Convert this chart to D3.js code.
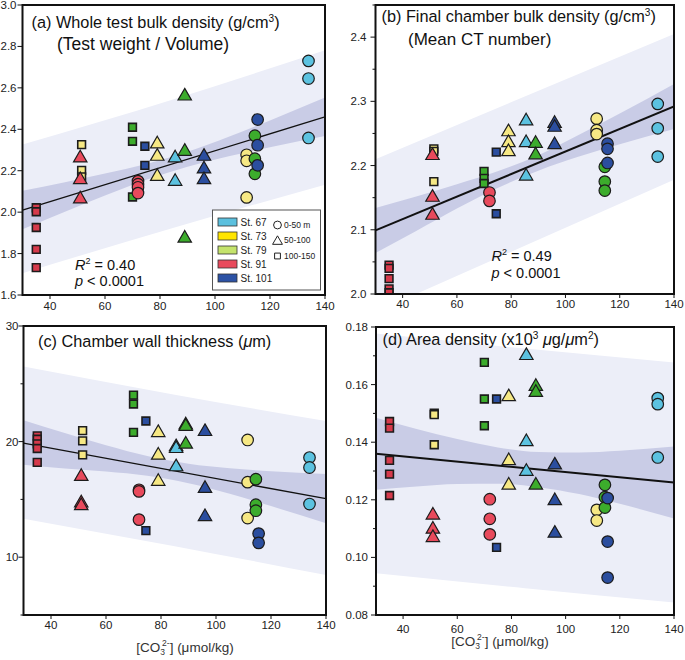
<!DOCTYPE html>
<html><head><meta charset="utf-8">
<script src="https://cdn.jsdelivr.net/npm/d3@7"></script>
<style>body{margin:0;background:#fff} svg{display:block} text{font-family:"Liberation Sans", Arial, Helvetica, sans-serif;}</style>
</head><body><svg id="c" width="685" height="660"></svg>
<script>
// ---------- data ----------
const stations = ["St. 67","St. 73","St. 79","St. 91","St. 101"];
const stationColors = ["#5cc2e0","#f6e884","#3cac2c","#e84a5c","#2b4e9f"];
const legendColors = ["#5bc0de","#ffe500","#c4e36c","#e84a5c","#2c52a5"];
const depthLabels = ["0-50 m","50-100","100-150"];
// groups: station index, depth index, [CO3 2-]
const groupStation = [0,0,1,1,1,2,2,2,3,3,3,4,4,4];
const groupDepth   = [0,1,0,1,2,0,1,2,0,1,2,0,1,2];
const groupCO3     = [134,85.5,111.5,79,51.5,114.5,89,70,72,51,35,115.5,96,74.5];

const wholeDensity = [
  [2.73,2.645,2.358],[2.266,2.153],[2.277,2.248,2.071],[2.334,2.274,2.177],[2.326,2.202,2.17],
  [2.369,2.258,2.185],[2.565,2.298,1.879],[2.41,2.342,2.073],[2.15,2.135,2.12,2.092],
  [2.266,2.161,2.068],[2.021,2.002,1.926,1.82,1.732],[2.447,2.323,2.226],[2.274,2.213,2.161],[2.318,2.226]
];
const chamberDensity = [
  [2.296,2.258,2.214],[2.271,2.237,2.185],[2.273,2.255,2.249],[2.254,2.237,2.223],[2.226,2.222,2.175],
  [2.198,2.175,2.161],[2.236,2.218],[2.191,2.18,2.172],[2.158,2.145],
  [2.217,2.152,2.124],[2.045,2.04,2.024,2.008,2.002],[2.234,2.226,2.204],[2.267,2.261,2.234],[2.221,2.125]
];
const wallThickness = [
  [18.62,17.76,14.6],[19.63,19.48,17.9],[20.14,16.49,13.39],[20.86,18.9,16.64],[20.95,20.06,18.85],
  [16.75,14.54,14.02],[21.52,21.4,19.86],[24.02,23.25,20.8],[15.83,15.69,13.25],
  [17.07,14.77,14.54],[20.5,20.2,19.8,19.4,18.2],[12.04,11.24],[20.95,16.03,13.59],[21.78,12.3]
];
const areaDensity = [
  [0.1553,0.1532,0.1347],[0.1704,0.1405,0.1302],[0.1165,0.1128],[0.1561,0.1339,0.1254],[0.1501,0.1496,0.1391],
  [0.1252,0.1209,0.1173],[0.1597,0.1576,0.1254],[0.1677,0.155,0.1457],[0.1202,0.1134,0.108],
  [0.115,0.1101,0.1072],[0.1472,0.1449,0.1337,0.1289,0.1215],[0.1206,0.1055,0.093],[0.1324,0.12,0.1087],[0.155,0.1035]
];

// regression lines (value at x = 30 and x = 140)
const fitX = [30,140];
const fitA = [2.01,2.46];
const fitB = [2.099,2.292];
const fitC = [19.86,15.06];
const fitD = [0.136,0.126];

// 95% confidence bands
const ciX = [30,45,60,75,90,105,120,140];
const ciLoA = [1.917,1.999,2.080,2.156,2.219,2.270,2.313,2.367];
const ciHiA = [2.103,2.143,2.186,2.232,2.291,2.364,2.443,2.553];
const ciLoB = [2.064,2.098,2.133,2.165,2.192,2.214,2.233,2.257];
const ciHiB = [2.134,2.152,2.171,2.191,2.216,2.248,2.281,2.327];
const ciLoC = [18.0,17.67,17.42,17.05,16.40,15.49,14.42,12.93];
const ciHiC = [21.85,20.74,19.68,18.75,18.08,17.69,17.44,17.19];
const ciLoD = [0.1235,0.1246,0.1255,0.1256,0.1244,0.1220,0.1186,0.1135];
const ciHiD = [0.1485,0.1446,0.1411,0.1382,0.1366,0.1364,0.1370,0.1385];

// 95% prediction bands
const piX = [30,85,140];
const piLoA = [1.705,1.925,2.132];
const piHiA = [2.326,2.545,2.782];
const piLoB = [1.972,2.075,2.178];
const piHiB = [2.21,2.3075,2.405];
const piLoC = [13.33,10.95,8.45];
const piHiC = [26.5,24.05,21.78];
const piLoD = [0.0945,0.0893,0.0843];
const piHiD = [0.1777,0.1725,0.1677];

const xTicks = [40,60,80,100,120,140];
const yTicksA = [1.6,1.8,2.0,2.2,2.4,2.6,2.8,3.0];
const yTicksB = [2.0,2.1,2.2,2.3,2.4];
const yMinorB = [2.05,2.15,2.25,2.35,2.45];
const yTicksC = [10,20,30];
const yMinorC = [5,15,25];
const yTicksD = [0.08,0.10,0.12,0.14,0.16,0.18];
const yMinorD = [0.09,0.11,0.13,0.15,0.17];

// ---------- layout ----------
const svg = d3.select("#c");
const panels = [
  {id:"a", l:22.5, r:325, t:5, b:295, dom:[1.6,3.0], vals:wholeDensity, fit:fitA, ciLo:ciLoA, ciHi:ciHiA, piLo:piLoA, piHi:piHiA,
   ticks:yTicksA, minor:[], fmt:d3.format(".1f"), xlabDy:15, ylabGap:6},
  {id:"b", l:375.5, r:674, t:5, b:294, dom:[2.0,2.45], vals:chamberDensity, fit:fitB, ciLo:ciLoB, ciHi:ciHiB, piLo:piLoB, piHi:piHiB,
   ticks:yTicksB, minor:yMinorB, fmt:d3.format(".1f"), xlabDy:14, ylabGap:9},
  {id:"c", l:23.5, r:326, t:326, b:615, dom:[5,30], vals:wallThickness, fit:fitC, ciLo:ciLoC, ciHi:ciHiC, piLo:piLoC, piHi:piHiC,
   ticks:yTicksC, minor:yMinorC, fmt:d3.format("d"), xlabDy:14, ylabGap:5},
  {id:"d", l:376, r:674, t:327, b:615, dom:[0.08,0.18], vals:areaDensity, fit:fitD, ciLo:ciLoD, ciHi:ciHiD, piLo:piLoD, piHi:piHiD,
   ticks:yTicksD, minor:yMinorD, fmt:d3.format(".2f"), xlabDy:18, ylabGap:8}
];

const symTypes = [d3.symbolCircle, d3.symbolTriangle, d3.symbolSquare];
const symSizes = [105, 78, 60];

panels.forEach(p => {
  const x = d3.scaleLinear().domain([30,140]).range([p.l,p.r]);
  const y = d3.scaleLinear().domain(p.dom).range([p.b,p.t]);
  const g = svg.append("g");
  const clipId = "clip"+p.id;
  svg.append("clipPath").attr("id",clipId).append("rect")
    .attr("x",p.l).attr("y",p.t).attr("width",p.r-p.l).attr("height",p.b-p.t);
  const inner = g.append("g").attr("clip-path",`url(#${clipId})`);
  inner.append("rect").attr("x",p.l).attr("y",p.t).attr("width",p.r-p.l).attr("height",p.b-p.t).attr("fill","#fff");

  const area = d3.area().x(d=>x(d[0])).y0(d=>y(d[1])).y1(d=>y(d[2]));
  const piData = piX.map((v,i)=>[v,p.piLo[i],p.piHi[i]]);
  const ciData = ciX.map((v,i)=>[v,p.ciLo[i],p.ciHi[i]]);
  inner.append("path").attr("d",area.curve(d3.curveMonotoneX)(piData)).attr("fill","#eceef8");
  inner.append("path").attr("d",area.curve(d3.curveMonotoneX)(ciData)).attr("fill","#c9cce6");
  inner.append("path").attr("d",d3.line().x(d=>x(d[0])).y(d=>y(d[1]))(fitX.map((v,i)=>[v,p.fit[i]])))
    .attr("stroke","#111").attr("stroke-width", p.id==="a"||p.id==="c" ? 1.3 : 2).attr("fill","none");

  // points
  const pts = [];
  p.vals.forEach((arr,gi)=>arr.forEach(v=>pts.push({x:groupCO3[gi], y:v, s:groupStation[gi], d:groupDepth[gi]})));
  inner.selectAll("path.pt").data(pts).join("path").attr("class","pt")
    .attr("d",d=>d3.symbol().type(symTypes[d.d]).size(symSizes[d.d])())
    .attr("transform",d=>`translate(${x(d.x)},${y(d.y) + (d.d===1?1:0)})`)
    .attr("fill",d=> (d.s===3 && d.d===2) ? "#d63a4c" : stationColors[d.s])
    .attr("stroke","#1c1c1c").attr("stroke-width",d=>d.d===2?1.6:1.2);

  // frame
  g.append("rect").attr("x",p.l).attr("y",p.t).attr("width",p.r-p.l).attr("height",p.b-p.t)
    .attr("fill","none").attr("stroke","#111").attr("stroke-width",2);

  // y axis ticks
  const ya = g.append("g");
  p.ticks.forEach(t=>{
    ya.append("line").attr("x1",p.l-5).attr("x2",p.l).attr("y1",y(t)).attr("y2",y(t)).attr("stroke","#111").attr("stroke-width",1);
    ya.append("text").attr("x",p.l-p.ylabGap).attr("y",y(t)).attr("dy","0.35em").attr("text-anchor","end")
      .attr("font-size",11.5).attr("fill","#222").text(p.fmt(t));
  });
  p.minor.forEach(t=>{
    ya.append("line").attr("x1",p.l-3).attr("x2",p.l).attr("y1",y(t)).attr("y2",y(t)).attr("stroke","#111").attr("stroke-width",1);
  });
  // x axis ticks
  xTicks.forEach(t=>{
    g.append("line").attr("x1",x(t)).attr("x2",x(t)).attr("y1",p.b).attr("y2",p.b+4).attr("stroke","#111");
    g.append("text").attr("x",x(t)).attr("y",p.b+p.xlabDy).attr("text-anchor","middle")
      .attr("font-size",11.5).attr("fill","#222").text(t);
  });
});

// ---------- titles ----------
function title(xp, yp, parts, size){
  size = size || 16.3;
  const t = svg.append("text").attr("x",xp).attr("y",yp).attr("font-size",size).attr("fill","#111");
  let shift = 0;
  parts.forEach(pt=>{
    const s = t.append("tspan").text(pt.t);
    if (pt.sup){ s.attr("font-size",size*0.62).attr("dy",-6-shift); shift = -6; }
    else if (pt.sub){ s.attr("font-size",size*0.62).attr("dy",4-shift); shift = 4; }
    else if (shift!==0){ s.attr("dy",-shift); shift = 0; }
    if (pt.i) s.attr("font-style","italic");
  });
  return t;
}
title(31.5, 28, [{t:"(a) Whole test bulk density (g/cm"},{t:"3",sup:true},{t:")"}]);
title(57, 50, [{t:"(Test weight / Volume)"}], 17.5);
title(381.5, 22, [{t:"(b) Final chamber bulk density (g/cm"},{t:"3",sup:true},{t:")"}]);
title(408, 45, [{t:"(Mean CT number)"}], 17);
title(38, 347, [{t:"(c) Chamber wall thickness ("},{t:"μ",i:true},{t:"m)"}]);
title(382.5, 345, [{t:"(d) Area density (x10"},{t:"3",sup:true},{t:" "},{t:"μ",i:true},{t:"g/"},{t:"μ",i:true},{t:"m"},{t:"2",sup:true},{t:")"}]);

// R2 labels
title(75, 269.5, [{t:"R",i:true},{t:"2",sup:true},{t:" = 0.40"}], 14.5);
title(75, 286, [{t:"p",i:true},{t:" < 0.0001"}], 14.5);
title(491.5, 261, [{t:"R",i:true},{t:"2",sup:true},{t:" = 0.49"}], 14.5);
title(491.5, 277.5, [{t:"p",i:true},{t:" < 0.0001"}], 14.5);

// x axis titles
function xtitle(cx, yp){
  const t = svg.append("text").attr("x",cx).attr("y",yp).attr("text-anchor","middle").attr("font-size",13.5).attr("fill","#333");
  t.append("tspan").text("[CO");
  t.append("tspan").text("3").attr("font-size",8.5).attr("dy",3);
  t.append("tspan").text("2-").attr("font-size",8.5).attr("dy",-9).attr("dx",-3);
  t.append("tspan").text("] (μmol/kg)").attr("dy",6);
}
xtitle(185, 652);
xtitle(500, 646);

// ---------- legend ----------
const lg = svg.append("g");
lg.append("rect").attr("x",212.5).attr("y",210).attr("width",108).attr("height",80)
  .attr("fill","#fff").attr("stroke","#555").attr("stroke-width",1);
stations.forEach((s,i)=>{
  const yy = 222 + i*14;
  lg.append("rect").attr("x",218).attr("y",yy-4).attr("width",19).attr("height",8)
    .attr("fill",legendColors[i]).attr("stroke","#333").attr("stroke-width",0.8);
  lg.append("text").attr("x",240.5).attr("y",yy).attr("dy","0.35em").attr("font-size",10).attr("fill","#222").text(s);
});
depthLabels.forEach((s,i)=>{
  const yy = 225 + i*15.5;
  lg.append("path").attr("d",d3.symbol().type(symTypes[i]).size([48,42,34][i])())
    .attr("transform",`translate(277.5,${yy + (i===1?1:0)})`).attr("fill","#fff").attr("stroke","#222").attr("stroke-width",1);
  lg.append("text").attr("x",284).attr("y",yy).attr("dy","0.35em").attr("font-size",8.5).attr("fill","#222").text(s);
});
</script></body></html>
